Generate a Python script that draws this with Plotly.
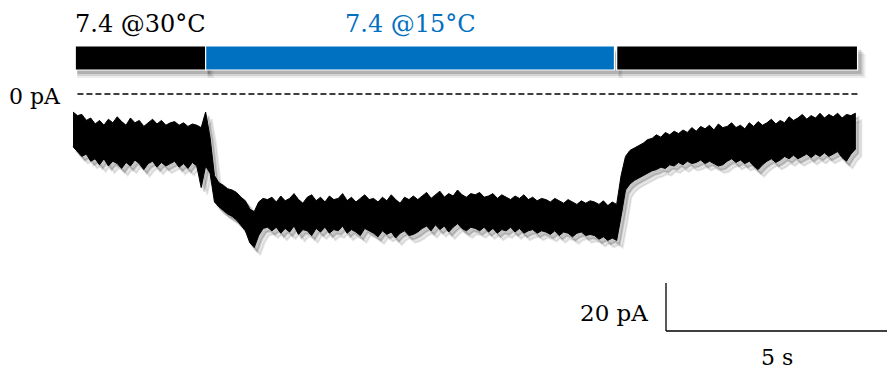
import numpy as np
import plotly.graph_objects as go

# ---------------- data ----------------
SAMPLE_INTERVAL_S = 0.1
upper_pA = [
    -7.5, -9, -8.5, -11, -10, -12.5, -11, -13, -10.5, -12, -9.5, -11.5, -13, -10, -12,
    -11, -13.5, -12, -10.5, -12.5, -11, -13, -12, -11.5, -13, -12, -13.5, -12.5, -13,
    -14, -7.5, -18, -34, -37, -38, -39.5, -40, -41, -43, -44.5, -48, -49, -45, -43.5, -44,
    -43, -45, -42.5, -44.5, -43.5, -41.5, -44, -45.5, -43, -42, -44.5, -43, -45, -42.5, -44,
    -43.5, -41.5, -44.5, -43, -45, -43.5, -42, -44,
    -43.5, -45, -43, -44.5, -42, -44, -45.5, -43, -44, -42.5, -44,
    -42.5, -41, -43.5, -42, -40.5, -43, -41.5, -42.5, -40, -42, -43, -41.5,
    -42, -41, -43, -42.5, -41.5, -43.5, -42, -43, -44, -42.5, -43.5, -42, -44, -43, -44.5, -43.5,
    -44, -45, -43.5, -44.5, -45.5, -44, -45, -46, -44.5, -45.5, -44.5,
    -45, -46, -44.5, -46.5, -45,
    -46, -34, -26, -23.5, -22.5, -21.5, -20.5, -19,
    -18.5, -17, -18, -16, -17, -15.5, -16.5, -15, -16, -14, -15.5, -13.5, -14.5, -13, -15,
    -12.5, -14, -13.5, -12, -14, -13, -14.5, -12, -13.5, -11.5, -13, -12, -10.5, -12.5, -11,
    -12, -9.5, -11, -10, -8.5, -10.5, -9, -10, -8, -10, -8.5, -9.5, -8, -10, -8.5, -9, -8,
]
lower_pA = [
    -22, -24, -26, -25, -28, -27, -29.5, -27, -30, -28, -29, -31, -28.5, -30, -27.5,
    -29, -31.5, -29, -28, -30.5, -28.5, -30, -29, -28, -30.5, -29, -31, -28.5, -30,
    -39, -30, -33, -45, -47, -48.5, -50, -51, -52.5, -54.5, -57, -62, -64, -59, -56, -55.5,
    -57, -55.5, -58, -56, -57.5, -55, -58.5, -56.5, -57, -59, -56, -57.5, -55.5, -58, -56.5,
    -57, -55, -58, -56.5, -57.5, -59, -56, -57,
    -58, -59.5, -57, -58.5, -57.5, -60, -58, -57, -59, -58.5, -57.5,
    -56, -55, -57, -54.5, -56.5, -55, -57.5, -55.5, -54, -56, -57, -55.5,
    -56, -57, -55.5, -57.5, -56, -58, -56.5, -57, -55.5, -57.5, -56, -58, -57, -56.5, -58, -57,
    -57.5, -58.5, -57, -59, -57.5, -58, -59.5, -58, -57.5, -59, -58.5,
    -59, -60.5, -59.5, -61, -60,
    -61, -51, -40, -37.5, -36, -35, -34, -33,
    -32, -31.5, -30.5, -31, -29.5, -30, -28.5, -29.5, -28, -29, -28.5, -27.5, -29, -28, -29,
    -30, -29.5, -28, -27, -28.5, -27.5, -29, -28, -30, -31.5, -29.5, -28, -27, -28.5, -27.5,
    -26, -27, -25.5, -27, -26, -25, -26.5, -25, -26, -24.5, -26, -25, -24, -26.5, -28, -25, -23,
]
time_s = np.round(np.arange(len(upper_pA)) * SAMPLE_INTERVAL_S, 2)

# perfusion solutions (start, end in s)
solutions = ["7.4 @30°C", "7.4 @15°C", "7.4 @30°C"]
sol_start_s = [0.05, 3.0, 12.3]
sol_end_s = [3.0, 12.25, 17.75]
sol_colors = ["#000000", "#0070c0", "#000000"]
label_shown = [True, True, False]

scale_time_s = 5
scale_current_pA = 20

# ---------------- layout constants ----------------
W, H = 887, 376
X_RANGE = [-1.652, 18.416]
Y_RANGE = [-117.5, 39.17]
px_per_s = W / (X_RANGE[1] - X_RANGE[0])
px_per_pA = H / (Y_RANGE[1] - Y_RANGE[0])

FONT = "DejaVu Serif"

poly_x = list(time_s) + list(time_s[::-1])
poly_y = list(upper_pA) + list(lower_pA[::-1])

fig = go.Figure()

# soft drop shadow of the trace on shifted overlay axes
shadows = [(6, 7, "rgba(0,0,0,0.09)", "x3", "y3"), (3, 4, "rgba(0,0,0,0.15)", "x2", "y2")]
for dx, dy, col, xa, ya in shadows:
    fig.add_trace(go.Scatter(x=poly_x, y=poly_y, fill="toself", fillcolor=col,
                             line=dict(color=col, width=2), mode="lines",
                             xaxis=xa, yaxis=ya, hoverinfo="skip", showlegend=False))

fig.add_trace(go.Scatter(x=poly_x, y=poly_y, fill="toself", fillcolor="black",
                         line=dict(color="black", width=1), mode="lines",
                         hoverinfo="skip", showlegend=False))

shapes = []
annotations = []
BAR_TOP, BAR_BOT = 1 - 46 / H, 1 - 70 / H
# bar shadows
for s, e in zip(sol_start_s, sol_end_s):
    for k, op in [(8, 0.07), (6, 0.11), (4, 0.16)]:
        shapes.append(dict(type="rect", xref="x", yref="paper",
                           x0=s + 2 / px_per_s, x1=e + k / px_per_s,
                           y0=BAR_BOT - k / H, y1=BAR_TOP - k / H,
                           fillcolor=f"rgba(0,0,0,{op})", line=dict(width=0), layer="below"))
for s, e, c, name, show in zip(sol_start_s, sol_end_s, sol_colors, solutions, label_shown):
    shapes.append(dict(type="rect", xref="x", yref="paper", x0=s, x1=e,
                       y0=BAR_BOT, y1=BAR_TOP, fillcolor=c,
                       line=dict(color="white", width=1.2)))
    if show:
        annotations.append(dict(x=(s + e) / 2, y=1 - 24 / H, xref="x", yref="paper",
                                yanchor="middle", text=name, showarrow=False,
                                font=dict(family=FONT, size=24, color=c)))

# 0 pA dashed line
shapes.append(dict(type="line", xref="x", yref="y", x0=0.1, x1=17.76, y0=0, y1=0,
                   line=dict(color="black", width=1.3, dash="6px,3px")))
annotations.append(dict(x=0, y=0, xref="x", yref="y", xanchor="right", yanchor="middle",
                        xshift=-10, yshift=-2, text="0 pA", showarrow=False,
                        font=dict(family=FONT, size=22, color="black")))

# scale bar
sb_x0 = X_RANGE[1] - scale_time_s
sb_y0 = -98.75
shapes.append(dict(type="line", xref="x", yref="y", x0=sb_x0, x1=sb_x0 + scale_time_s,
                   y0=sb_y0, y1=sb_y0, line=dict(color="black", width=1.3)))
shapes.append(dict(type="line", xref="x", yref="y", x0=sb_x0, x1=sb_x0,
                   y0=sb_y0, y1=sb_y0 + scale_current_pA, line=dict(color="black", width=1.3)))
annotations.append(dict(x=sb_x0, y=sb_y0 + scale_current_pA * 0.38, xref="x", yref="y",
                        xanchor="right", yanchor="middle", xshift=-16,
                        text=f"{scale_current_pA} pA",
                        showarrow=False, font=dict(family=FONT, size=23, color="black")))
annotations.append(dict(x=sb_x0 + scale_time_s / 2, y=sb_y0, xref="x", yref="y",
                        yanchor="middle", yshift=-26, text=f"{scale_time_s} s",
                        showarrow=False, font=dict(family=FONT, size=22, color="black")))

ax_common = dict(visible=False, showgrid=False, zeroline=False, fixedrange=True)
layout_axes = dict(
    xaxis=dict(range=X_RANGE, domain=[0, 1], **ax_common),
    yaxis=dict(range=Y_RANGE, domain=[0, 1], **ax_common),
)
for i, (dx, dy, *_rest) in zip([3, 2], shadows):
    layout_axes[f"xaxis{i}"] = dict(range=[X_RANGE[0] - dx / px_per_s, X_RANGE[1] - dx / px_per_s],
                                    overlaying="x", domain=[0, 1], **ax_common)
    layout_axes[f"yaxis{i}"] = dict(range=[Y_RANGE[0] + dy / px_per_pA, Y_RANGE[1] + dy / px_per_pA],
                                    overlaying="y", domain=[0, 1], **ax_common)

fig.update_layout(width=W, height=H, margin=dict(l=0, r=0, t=0, b=0),
                  paper_bgcolor="white", plot_bgcolor="white",
                  shapes=shapes, annotations=annotations, showlegend=False,
                  **layout_axes)

fig.write_html("out.html", config={"displayModeBar": False},
               post_script="document.body.style.margin='0';document.body.style.overflow='hidden';")
